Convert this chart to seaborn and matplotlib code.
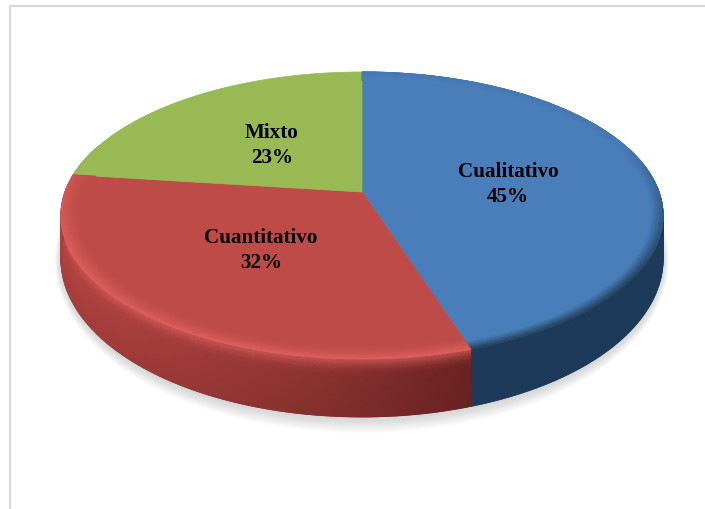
import numpy as np
import pandas as pd
import seaborn as sns
import matplotlib
matplotlib.use("Agg")
import matplotlib.pyplot as plt
from matplotlib.collections import LineCollection
from matplotlib.colors import to_rgb

categories = ["Cualitativo", "Cuantitativo", "Mixto"]
shares = [45, 32, 23]
top_colors = ["#4a7ebb", "#be4b48", "#98b954"]
label_centers_x = [508, 261, 272]
label_centers_y = [184.5, 250.5, 145.5]

sns.set_theme(style="white")
plt.rcParams["font.family"] = ["Liberation Serif", "DejaVu Serif"]

df = pd.DataFrame({"category": categories, "share": shares})
df["end"] = df["share"].cumsum() / df["share"].sum() * 2 * np.pi
df["start"] = df["end"].shift(fill_value=0.0)
palette = sns.color_palette(top_colors)

# Perspective disc: apex position, half axes and foreshortening of the far side
CX, CY, A, B, K = 362.0, 193.0, 297.0, 139.6, 0.163


def disc(theta, r=1.0):
    """Project polar disc coordinates (clockwise from 12 o'clock) to the canvas."""
    u, v = r * np.sin(theta), r * np.cos(theta)
    w = 1 + K * v
    return CX + A * u / w, CY - B * v / w


def wall_height(theta):
    """The near side of the disc looks thicker than its flanks."""
    return 40 + 18 * np.clip(-np.cos(theta), 0, 1)


def mix(c1, c2, t):
    """Blend two colours; t may be an array, which gives an array of RGB rows."""
    t = np.asarray(t, dtype=float)[..., None]
    return (1 - t) * np.array(to_rgb(c1)) + t * np.array(to_rgb(c2))


fig = plt.figure(figsize=(7.05, 5.10), dpi=100, facecolor="white")
ax = fig.add_axes([0, 0, 1, 1])
ax.set_xlim(0, 705)
ax.set_ylim(510, 0)
ax.axis("off")

# Chart frame: only the top and left borders fall inside the canvas
ax.plot([10, 10], [7, 510], color="#d9d9d9", lw=1.6, zorder=1)
ax.plot([10, 705], [7, 7], color="#d9d9d9", lw=1.6, zorder=1)

# Soft drop shadow under the solid
ring = np.linspace(0, 2 * np.pi, 360)
bx, by = disc(ring)
by = by + wall_height(ring)
for grow in np.linspace(14, 0, 15):
    sx = CX + (bx - CX) * (1 + 0.45 * grow / 300)
    sy = 262 + (by - 262) * (1 + grow / 155) + 2
    ax.fill(sx, sy, color="#8c8c8c", alpha=0.024, lw=0, zorder=2)

# Side wall, shaded from left to right and from top to bottom
red_wall = sns.blend_palette(["#b84644", "#a33d3c", "#8a3230", "#6b2322"], 256)
wall_tones = {"Cualitativo": np.array(sns.blend_palette(["#21405f", "#1e3a5a"], 256)),
              "Cuantitativo": np.array(red_wall),
              "Mixto": np.array(sns.blend_palette(["#7a9640", "#7a9640"], 256))}
rows = np.linspace(0, 1, 12)
for row in df.itertuples():
    th = np.linspace(row.start, row.end, 120)
    keep = np.cos(th) < 0.35
    if keep.sum() < 2:
        continue
    th = th[keep]
    x, y = disc(th)
    h = wall_height(th)
    X = np.tile(x, (rows.size, 1))
    Y = y + np.outer(rows, h)
    shade = (np.clip((x - 62) / (470 - 62), 0, 1) * 255).astype(int)
    base = np.tile(wall_tones[row.category][shade], (rows.size, 1, 1))
    T = np.tile(rows[:, None], (1, th.size))
    if row.category == "Cuantitativo":
        glow = np.clip(1 - T / 0.22, 0, 1)[..., None] * 0.8
        tone = base * (1 - glow) + np.array(to_rgb("#d45c5a")) * glow
        tone = tone * (1 - 0.2 * T[..., None]) + np.array(to_rgb("#5e1f1e")) * 0.2 * T[..., None]
    else:
        tone = base
    ax.pcolormesh(X, Y, tone, shading="gouraud", zorder=3)
    # Antialiased trim along the lower edge of the wall
    pts = np.column_stack([x, y + h])
    segs = np.stack([pts[:-1], pts[1:]], axis=1)
    ax.add_collection(LineCollection(segs, colors=tone[-1][:-1], lw=0.9, zorder=3))

# Top face of each slice
for row, color in zip(df.itertuples(), palette):
    th = np.linspace(row.start, row.end, 200)
    x, y = disc(th)
    ax.fill(np.r_[CX, x], np.r_[CY, y], color=color, lw=0.5, zorder=4)

# Bevel along the outer edge of the top face
radii = np.linspace(0.92, 1.0, 9)
for row, color in zip(df.itertuples(), palette):
    if row.category == "Mixto":
        continue
    th = np.linspace(row.start, row.end, 160)
    R, TH = np.meshgrid(radii, th, indexing="ij")
    X, Y = disc(TH, R)
    depth = (R - radii[0]) / (radii[-1] - radii[0])
    front = np.clip(0.35 - np.cos(TH), 0, 1)
    if row.category == "Cuantitativo":
        tone = mix(color, "#dc5f5d", depth ** 2 * np.minimum(1.0, 0.3 + front))
    else:
        tone = mix(color, "#24425f", np.clip(depth - 0.5, 0, 1) / 0.5 * 0.95 * np.minimum(1.0, 0.12 + front))
    ax.pcolormesh(X, Y, tone, shading="gouraud", zorder=5)
    # Antialiased trim along the far rim, where no wall is visible behind it
    pts = np.column_stack([X[-1], Y[-1]])
    segs = np.stack([pts[:-1], pts[1:]], axis=1)
    ax.add_collection(LineCollection(segs, colors=tone[-1][:-1], lw=0.7, zorder=5))

# Data labels
for name, share, lx, ly in zip(categories, shares, label_centers_x, label_centers_y):
    ax.text(lx, ly, f"{name}\n{share}%", ha="center", va="center", fontsize=15.2,
            fontweight="bold", color="black", linespacing=1.36, zorder=6)

fig.savefig("out.png", dpi=100, facecolor="white")
